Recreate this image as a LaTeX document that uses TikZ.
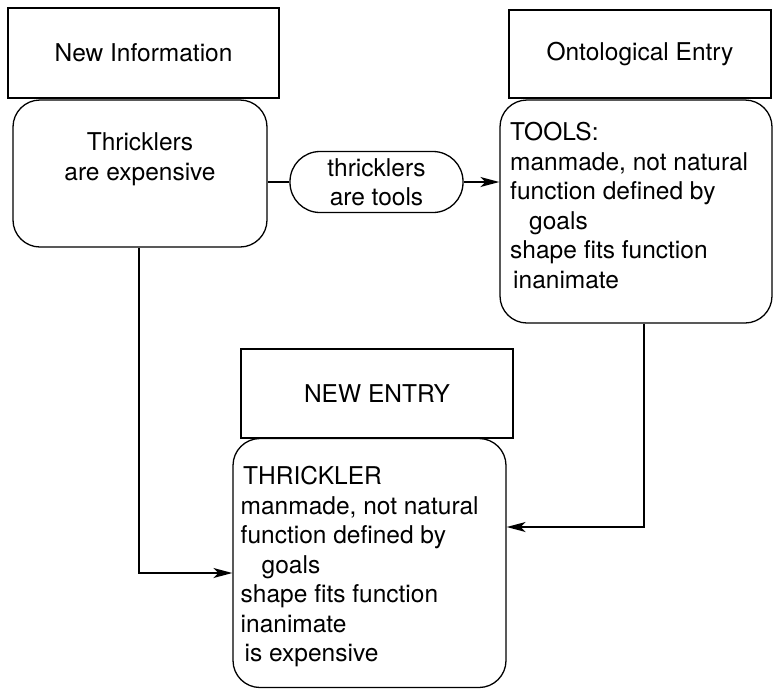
\documentclass[tikz,border=0pt]{standalone}
\usepackage{fontspec}
\setmainfont{TeX Gyre Heros}
\usetikzlibrary{arrows.meta}
\begin{document}
\begin{tikzpicture}[x=1pt,y=-1pt,
  every node/.style={font=\fontsize{24.5}{29.5}\selectfont},
  hbox/.style={draw,line width=1.4pt,inner sep=0pt},
  rbox/.style={draw,line width=1.3pt,rounded corners=27pt,inner sep=0pt},
  txt/.style={inner sep=0pt},
  link/.style={line width=1.5pt},
  arr/.style={line width=1.5pt,-{Stealth[length=19pt,width=10pt,inset=5pt]}}]
\useasboundingbox (0,0) rectangle (773,689);
% boxes
\node[hbox,minimum width=271pt,minimum height=90pt] (newinfo) at (143.5,53) {New Information};
\node[rbox,minimum width=254pt,minimum height=147pt] (thr) at (140,173.5) {};
\node[txt,align=center] (thrtxt) at (140,159) {Thricklers\\are expensive};
\node[draw,line width=1.3pt,rounded corners=30pt,inner sep=0pt,minimum width=173pt,minimum height=61pt,align=center] (pill) at (376.5,182) {thricklers\\are tools};
\node[hbox,minimum width=262pt,minimum height=88pt] (ontohead) at (640,54) {Ontological Entry};
\node[rbox,minimum width=272pt,minimum height=223pt] (onto) at (636,211.5) {};
\node[txt,align=left,anchor=north west] (ontotxt) at (510,122) {TOOLS:\\manmade, not natural\\function defined by\\\hspace*{19pt}goals\\shape fits function\\\hspace*{3pt}inanimate};
\node[hbox,minimum width=272pt,minimum height=89pt] (newhead) at (377,393.5) {NEW ENTRY};
\node[rbox,minimum width=273pt,minimum height=249pt] (newbody) at (369.5,563) {};
\node[txt,align=left,anchor=north west] (newtxt) at (240.5,466) {\hspace*{2.5pt}THRICKLER\\manmade, not natural\\function defined by\\\hspace*{21pt}goals\\shape fits function\\inanimate\\\hspace*{4pt}is expensive};
% connectors
\coordinate (c1) at (644,527);
\coordinate (c2) at (139,573);
\draw[link] (pill.west) -- (pill.west -| thr.east);
\draw[arr] (pill.east) -- (pill.east -| onto.west);
\draw[arr] (onto.south -| c1) -- (c1) -- (c1 -| newbody.east);
\draw[arr] (thr.south -| c2) -- (c2) -- (c2 -| newbody.west);
\end{tikzpicture}
\end{document}
